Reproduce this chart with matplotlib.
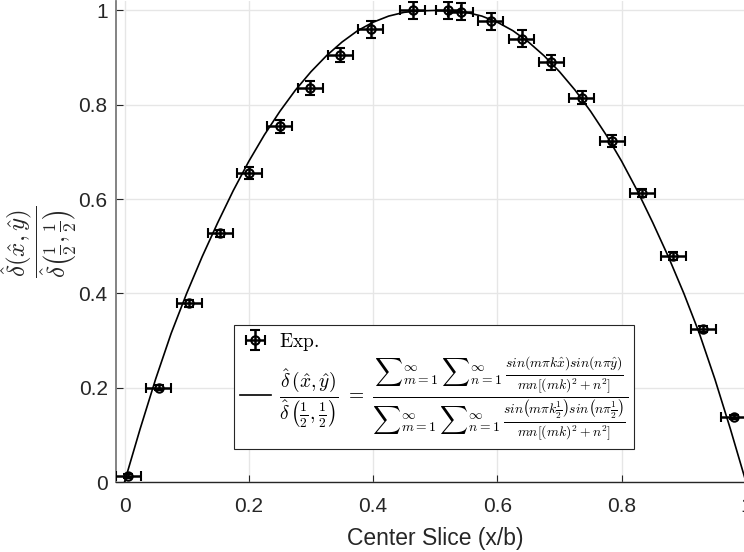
import numpy as np
import matplotlib
matplotlib.use("Agg")
import matplotlib.pyplot as plt

plt.rcParams['font.family'] = ['Liberation Sans', 'DejaVu Sans']
plt.rcParams['mathtext.fontset'] = 'cm'

# measured deflection along the centre slice
x_exp = [0.006, 0.055, 0.104, 0.154, 0.201, 0.250, 0.299, 0.347, 0.396, 0.464, 0.521,
         0.541, 0.589, 0.639, 0.687, 0.736, 0.785, 0.833, 0.883, 0.931, 0.980]
y_exp = [0.013, 0.200, 0.379, 0.527, 0.655, 0.754, 0.836, 0.905, 0.960, 1.000, 1.000,
         0.997, 0.977, 0.940, 0.890, 0.815, 0.723, 0.613, 0.479, 0.324, 0.138]
x_err = [0.020] * len(x_exp)
y_err = [0.005, 0.005, 0.007, 0.007, 0.013, 0.014, 0.015, 0.015, 0.018, 0.018, 0.018,
         0.018, 0.018, 0.018, 0.016, 0.014, 0.013, 0.008, 0.008, 0.006, 0.004]

# series solution along the slice
x_theory = [0.0, 0.025, 0.05, 0.075, 0.1, 0.125, 0.15, 0.175, 0.2, 0.225, 0.25, 0.275,
            0.3, 0.325, 0.35, 0.375, 0.4, 0.425, 0.45, 0.475, 0.5, 0.525, 0.55, 0.575,
            0.6, 0.625, 0.65, 0.675, 0.7, 0.725, 0.75, 0.775, 0.8, 0.825, 0.85, 0.875,
            0.9, 0.925, 0.95, 0.975, 1.0]
y_theory = [0.000, 0.112, 0.218, 0.315, 0.400, 0.478, 0.550, 0.618, 0.680, 0.736, 0.786,
            0.831, 0.870, 0.904, 0.933, 0.957, 0.975, 0.988, 0.996, 0.999, 1.000, 0.999,
            0.996, 0.988, 0.975, 0.957, 0.933, 0.904, 0.870, 0.831, 0.786, 0.736, 0.680,
            0.618, 0.550, 0.478, 0.400, 0.315, 0.218, 0.112, 0.000]

xticks = [0, 0.2, 0.4, 0.6, 0.8, 1]
yticks = [0, 0.2, 0.4, 0.6, 0.8, 1]

eq_label = (r'$\dfrac{\hat{\delta}\,(\hat{x},\hat{y})}{\hat{\delta}\,\left(\frac{1}{2},\frac{1}{2}\right)}'
            r'\ =\ \dfrac{{\sum}_{m=1}^{\infty}\,{\sum}_{n=1}^{\infty}\,'
            r'\frac{sin(m\pi k\hat{x})sin(n\pi\hat{y})}{mn[(mk)^2+n^2]}}'
            r'{{\sum}_{m=1}^{\infty}\,{\sum}_{n=1}^{\infty}\,'
            r'\frac{sin\left(m\pi k\frac{1}{2}\right)sin\left(n\pi\frac{1}{2}\right)}{mn[(mk)^2+n^2]}}$')

fig = plt.figure(figsize=(7.44, 5.52), dpi=100)
ax = fig.add_axes([116 / 744, 1 - 482 / 552, 638.5 / 744, 481 / 552])

ax.plot(x_theory, y_theory, color='black', lw=1.2, label=eq_label, zorder=3)
ax.errorbar(x_exp, y_exp, xerr=x_err, yerr=y_err, fmt='o', color='black',
            mfc='none', mec='black', ms=6, mew=1.5, elinewidth=1.8,
            capsize=3.8, capthick=1.8, label=r'$\mathrm{Exp.}$', zorder=4)

ax.set_xlim(-0.0137, 1.0137)
ax.set_ylim(0, 1.02)
ax.set_xticks(xticks)
ax.set_yticks(yticks)
ax.set_xticklabels(['0', '0.2', '0.4', '0.6', '0.8', '1'])
ax.set_yticklabels(['0', '0.2', '0.4', '0.6', '0.8', '1'])
ax.grid(True, color='#e6e6e6', lw=1.0, zorder=0)
ax.set_axisbelow(True)

for side in ['top', 'right']:
    ax.spines[side].set_visible(False)
ax.spines['left'].set_color('#7a7a7a')
ax.spines['left'].set_linewidth(1.3)
ax.spines['bottom'].set_color('#262626')
ax.spines['bottom'].set_linewidth(1.0)
ax.tick_params(direction='in', length=5, width=0.8, colors='#262626', labelsize=15)
ax.tick_params(axis='x', pad=11)
ax.tick_params(axis='y', pad=6)

ax.set_xlabel('Center Slice (x/b)', fontsize=16.5, color='#262626', labelpad=8)
ax.set_ylabel(r'$\dfrac{\hat{\delta}(\hat{x},\hat{y})}{\hat{\delta}\left(\frac{1}{2},\frac{1}{2}\right)}$',
              fontsize=18, color='#262626', labelpad=0)

handles, labels = ax.get_legend_handles_labels()
leg = ax.legend(handles[::-1], labels[::-1], loc='upper left',
                bbox_to_anchor=(234 / 744, 1 - 325 / 552), bbox_transform=fig.transFigure,
                fontsize=14, frameon=True, fancybox=False, framealpha=1,
                edgecolor='#262626', handlelength=1.6, handletextpad=0.4,
                borderpad=0.3, labelspacing=0.1, borderaxespad=0)
leg.get_frame().set_linewidth(0.8)

fig.savefig('out.png', dpi=100)
